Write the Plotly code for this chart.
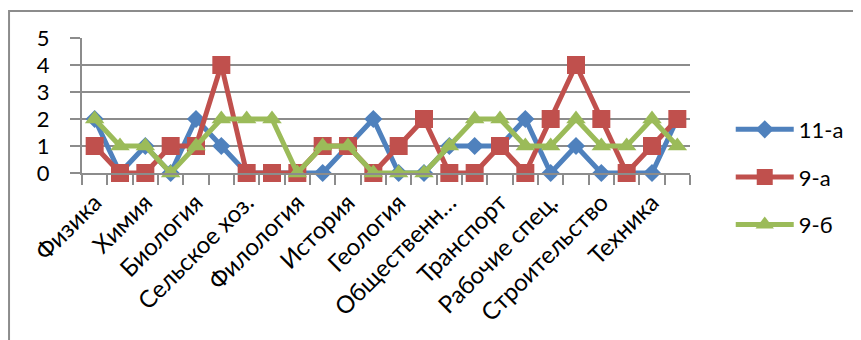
"""
Профориентация: интересы учащихся по направлениям (11-а, 9-а, 9-б)
"""
import plotly.graph_objects as go

# направления (подписана каждая вторая категория, как в исходной диаграмме)
categories = [
    'Физика', 'Математика', 'Химия', 'Информатика', 'Биология', 'Медицина',
    'Сельское хоз.', 'Экономика', 'Филология', 'Педагогика', 'История', 'Право',
    'Геология', 'Экология', 'Общественн…', 'Искусство', 'Транспорт', 'Спорт',
    'Рабочие спец.', 'Сфера услуг', 'Строительство', 'Военное дело', 'Техника', 'Туризм',
]

class_11a = [2, 0, 1, 0, 2, 1, 0, 0, 0, 0, 1, 2, 0, 0, 1, 1, 1, 2, 0, 1, 0, 0, 0, 2]
class_9a = [1, 0, 0, 1, 1, 4, 0, 0, 0, 1, 1, 0, 1, 2, 0, 0, 1, 0, 2, 4, 2, 0, 1, 2]
class_9b = [2, 1, 1, 0, 1, 2, 2, 2, 0, 1, 1, 0, 0, 0, 1, 2, 2, 1, 1, 2, 1, 1, 2, 1]

y_ticks = [0, 1, 2, 3, 4, 5]

FONT = 'Lato'
GRID = '#8c8c8c'

x = list(range(len(categories)))

series = [
    ('11-а', class_11a, '#4F81BD', 'diamond', 14),
    ('9-а', class_9a, '#C0504D', 'square', 18),
    ('9-б', class_9b, '#9BBB59', 'triangle-up', 17),
]

fig = go.Figure()

for name, values, color, symbol, size in series:
    fig.add_trace(
        go.Scatter(
            x=x,
            y=values,
            name=name,
            mode='lines+markers',
            line=dict(color=color, width=5),
            marker=dict(color=color, symbol=symbol, size=size),
            cliponaxis=False,
            legendgroup=name,
        )
    )

# страница открывается с отступом body 8px, поэтому поля смещены на 8px
fig.update_layout(
    width=861,
    height=340,
    margin=dict(l=74, r=179, t=30, b=175, autoexpand=False),
    paper_bgcolor='white',
    plot_bgcolor='white',
    font=dict(family=FONT, size=20, color='black'),
    showlegend=True,
    legend=dict(
        x=1.067, xanchor='left',
        y=-0.03, yanchor='middle',
        itemwidth=58,
        tracegroupgap=16,
        traceorder='grouped',
        font=dict(family=FONT, size=22, color='black'),
    ),
    shapes=[
        dict(type='rect', xref='paper', yref='paper',
             x0=-0.12, x1=1.4, y0=-1.5, y1=1.2,
             line=dict(color='#8c8c8c', width=2), fillcolor='rgba(0,0,0,0)', layer='below'),
    ],
)

fig.update_xaxes(
    range=[-0.5, len(categories) - 0.5],
    tickmode='array',
    tickvals=x[::2],
    ticktext=categories[::2],
    tickangle=-45,
    ticks='',
    showgrid=False,
    zeroline=False,
    showline=True,
    linecolor=GRID,
    linewidth=2,
    automargin=False,
    ticklabelstandoff=4,
    tickfont=dict(family=FONT, size=24),
    minor=dict(tick0=0.5, dtick=1, ticks='outside', ticklen=10, tickcolor=GRID, tickwidth=2, showgrid=False),
)

fig.update_yaxes(
    range=[0, 5],
    tickmode='array',
    tickvals=y_ticks,
    ticks='outside',
    ticklen=10,
    tickcolor=GRID,
    tickwidth=2,
    showgrid=True,
    gridcolor=GRID,
    gridwidth=2,
    zeroline=False,
    showline=True,
    linecolor=GRID,
    linewidth=2,
    automargin=False,
    ticklabelstandoff=16,
    tickfont=dict(family=FONT, size=22),
)

fig.write_html("out.html")
